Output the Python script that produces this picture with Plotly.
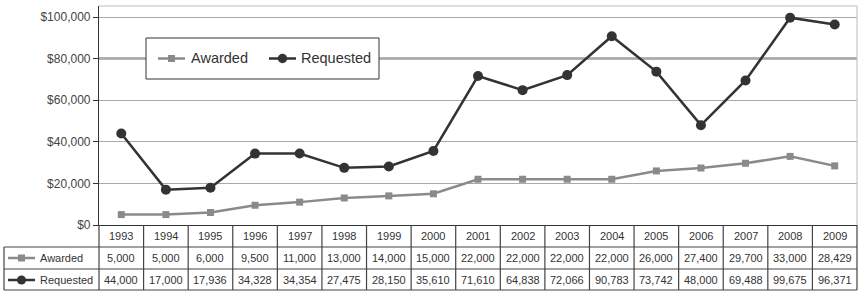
import plotly.graph_objects as go

# ---- data ----
years = ["1993", "1994", "1995", "1996", "1997", "1998", "1999", "2000", "2001",
         "2002", "2003", "2004", "2005", "2006", "2007", "2008", "2009"]
awarded = [5000, 5000, 6000, 9500, 11000, 13000, 14000, 15000, 22000,
           22000, 22000, 22000, 26000, 27400, 29700, 33000, 28429]
requested = [44000, 17000, 17936, 34328, 34354, 27475, 28150, 35610, 71610,
             64838, 72066, 90783, 73742, 48000, 69488, 99675, 96371]
series_names = ["Awarded", "Requested"]

# ---- geometry ----
W, H = 859, 291
L, R, T, B = 99, 2, 6, 66
PW, PH = W - L - R, H - T - B
FONT = "Liberation Sans, Arial, sans-serif"
TXT = "#333333"
GRAY = "#8a8a8a"
DARK = "#333333"
TLINE = "#444444"


def px(p):
    return (p - L) / PW


def py(q):
    return (H - B - q) / PH


fig = go.Figure()
fig.add_trace(go.Scatter(
    x=years, y=awarded, name=series_names[0], mode="lines+markers",
    line=dict(color=GRAY, width=2.5),
    marker=dict(symbol="square", size=7, color=GRAY)))
fig.add_trace(go.Scatter(
    x=years, y=requested, name=series_names[1], mode="lines+markers",
    line=dict(color=DARK, width=2.5),
    marker=dict(symbol="circle", size=10, color=DARK)))

shapes = []
annotations = []

# darker 80k gridline
shapes.append(dict(type="line", xref="paper", yref="y", x0=0, x1=1, y0=80000, y1=80000,
                   line=dict(color="#6a6a6a", width=2), layer="below"))
# light plot-area border top/right
shapes.append(dict(type="line", xref="paper", yref="paper", x0=0, x1=1, y0=1, y1=1,
                   line=dict(color="#bbbbbb", width=1)))
shapes.append(dict(type="line", xref="paper", yref="paper", x0=1, x1=1, y0=0, y1=1,
                   line=dict(color="#bbbbbb", width=1)))


def key(x0, x1, yc, col, sym, r, lw=2.5):
    shapes.append(dict(type="line", xref="paper", yref="paper",
                       x0=px(x0), x1=px(x1), y0=py(yc), y1=py(yc),
                       line=dict(color=col, width=lw), layer="above"))
    shapes.append(dict(type="rect" if sym == "square" else "circle",
                       xref="paper", yref="paper",
                       xsizemode="pixel", ysizemode="pixel",
                       xanchor=px((x0 + x1) / 2), yanchor=py(yc),
                       x0=-r, x1=r, y0=-r, y1=r,
                       line=dict(color=col, width=0), fillcolor=col, layer="above"))


# legend box (white, bordered) with keys
shapes.append(dict(type="rect", xref="paper", yref="paper",
                   x0=px(146), x1=px(379), y0=py(79), y1=py(38),
                   line=dict(color="#333333", width=1), fillcolor="white", layer="above"))
lfont = dict(family=FONT, size=14.5, color=TXT)
key(158, 185, 58.5, GRAY, "square", 3.5)
annotations.append(dict(x=px(189), xref="paper", y=py(58.5), yref="paper",
                        text=series_names[0], showarrow=False, font=lfont,
                        xanchor="left", yanchor="middle"))
key(269, 296, 58.5, DARK, "circle", 4.7)
annotations.append(dict(x=px(299), xref="paper", y=py(58.5), yref="paper",
                        text=series_names[1], showarrow=False, font=lfont,
                        xanchor="left", yanchor="middle"))

# ---- data table ----
n = len(years)
row_bot = 290
lab_left = 4
for q in [247, 269, row_bot]:
    shapes.append(dict(type="line", xref="paper", yref="paper",
                       x0=px(lab_left), x1=1, y0=py(q), y1=py(q),
                       line=dict(color=TLINE, width=1.2)))
for k in range(n + 1):
    shapes.append(dict(type="line", xref="paper", yref="paper",
                       x0=k / n, x1=k / n, y0=py(225), y1=py(row_bot),
                       line=dict(color=TLINE, width=1.2)))
shapes.append(dict(type="line", xref="paper", yref="paper",
                   x0=px(lab_left), x1=px(lab_left), y0=py(247), y1=py(row_bot),
                   line=dict(color=TLINE, width=1.2)))

row_centers = [236, 258, 280]
tfont = dict(family=FONT, size=11, color=TXT)
for i, yr in enumerate(years):
    for rc, txt in [(row_centers[0], yr),
                    (row_centers[1], f"{awarded[i]:,}"),
                    (row_centers[2], f"{requested[i]:,}")]:
        annotations.append(dict(x=i, xref="x", y=py(rc), yref="paper",
                                text=txt, showarrow=False, font=tfont,
                                xanchor="center", yanchor="middle"))

# row labels with legend keys
key(8, 35, row_centers[1], GRAY, "square", 3.5)
key(8, 35, row_centers[2], DARK, "circle", 4.5)
for name, rc in [(series_names[0], row_centers[1]), (series_names[1], row_centers[2])]:
    annotations.append(dict(x=px(38), xref="paper", y=py(rc), yref="paper",
                            text=name, showarrow=False, font=tfont,
                            xanchor="left", yanchor="middle"))

fig.update_layout(
    width=W, height=H,
    margin=dict(l=L, r=R, t=T, b=B),
    paper_bgcolor="white", plot_bgcolor="white",
    font=dict(family=FONT, color=TXT),
    showlegend=False,
    shapes=shapes,
    annotations=annotations,
)
fig.update_xaxes(type="category", range=[-0.5, n - 0.5], showticklabels=False,
                 showgrid=False, ticks="", showline=True, linecolor="#333333", linewidth=1,
                 zeroline=False)
fig.update_yaxes(range=[0, 105300], dtick=20000, tick0=0, tickprefix="$", tickformat=",d",
                 showgrid=True, gridcolor="#aaaaaa", gridwidth=1,
                 ticks="outside", ticklen=5, tickcolor="#333333",
                 showline=True, linecolor="#333333", linewidth=1.2,
                 zeroline=False, tickfont=dict(family=FONT, size=12, color="#444444"))

fig.write_html("out.html", config={"displayModeBar": False},
               post_script="document.body.style.margin='0';document.body.style.padding='0';")
